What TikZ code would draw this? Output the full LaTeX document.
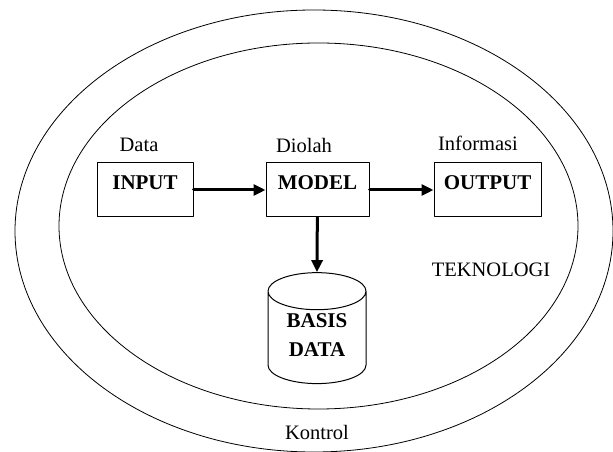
\documentclass[tikz,border=0pt]{standalone}
\usepackage{fontspec}
\setmainfont{Liberation Serif}
\usetikzlibrary{arrows.meta,shapes.geometric}

\begin{document}
\begin{tikzpicture}[line cap=round,line join=round,>={Triangle[length=12pt,width=11pt]},x=1pt,y=1pt,
	kotak/.style={draw,line width=1pt,rectangle,inner xsep=0pt,inner ysep=0pt,text height=27pt,text depth=27pt,font=\bfseries\fontsize{21}{25}\selectfont},
	tabung/.style={draw,line width=1pt,cylinder,shape border rotate=90,aspect=0.55,minimum width=98pt,minimum height=105pt,align=center,text depth=12pt,font=\bfseries\fontsize{21}{29}\selectfont},
	keterangan/.style={font=\fontsize{20.5}{24}\selectfont},
	panah/.style={->,line width=3pt}]
	\useasboundingbox (0,0) rectangle (613,452);
	% lingkaran luar dan dalam
	\draw[line width=0.8pt] (314,221) ellipse (299 and 221);
	\draw[line width=0.8pt] (318.5,226) ellipse (259.5 and 183);
	% kotak proses
	\node[kotak,minimum width=96pt] (input) at (145,262) {INPUT};
	\node[kotak,minimum width=103pt] (model) at (317.5,262) {MODEL};
	\node[kotak,minimum width=107pt] (output) at (487.5,262) {OUTPUT};
	\node[tabung] (basis) at (317,111) {BASIS\\DATA};
	% keterangan
	\node[keterangan] (data) at (139,307) {Data};
	\node[keterangan] (diolah) at (304,307) {Diolah};
	\node[keterangan] (informasi) at (478,309) {Informasi};
	\node[keterangan] (teknologi) at (491,182) {TEKNOLOGI};
	\node[keterangan] (kontrol) at (317,20) {Kontrol};
	% panah
	\draw[panah] (input) -- (model);
	\draw[panah] (model) -- (output);
	\draw[panah] (model) -- (basis.north);
\end{tikzpicture}
\end{document}
